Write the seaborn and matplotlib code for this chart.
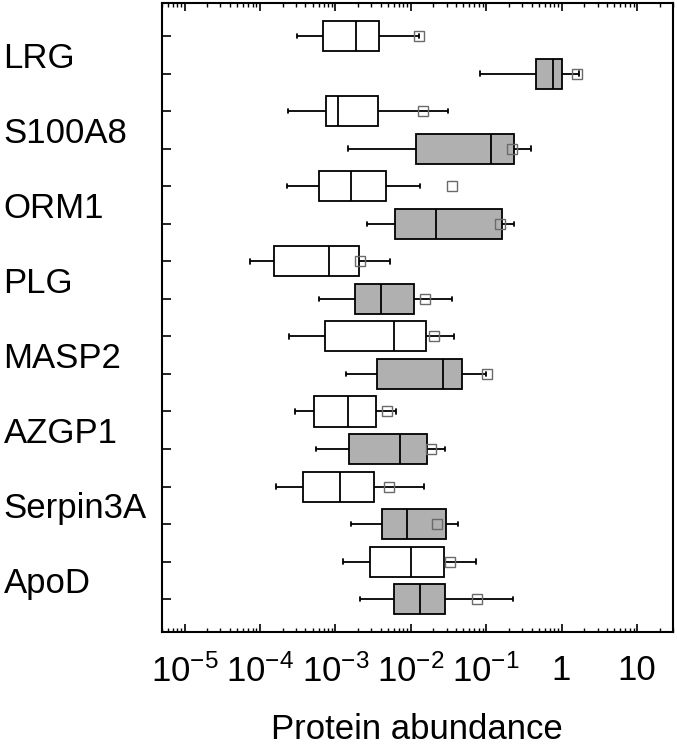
import numpy as np
import pandas as pd
import matplotlib
matplotlib.use("Agg")
import matplotlib.pyplot as plt
import matplotlib.ticker as mticker
import seaborn as sns

proteins = ["LRG", "S100A8", "ORM1", "PLG", "MASP2", "AZGP1", "Serpin3A", "ApoD"]
groups = ["Control", "Patient"]

# box summaries (whisker low, q1, median, q3, whisker high)
ctrl_lo = [3.06e-4, 2.35e-4, 2.30e-4, 7.46e-5, 2.40e-4, 2.94e-4, 1.61e-4, 1.27e-3]
ctrl_q1 = [6.9e-4, 7.48e-4, 6.11e-4, 1.55e-4, 7.26e-4, 5.25e-4, 3.78e-4, 2.92e-3]
ctrl_med = [1.88e-3, 1.10e-3, 1.62e-3, 8.35e-4, 6.0e-3, 1.49e-3, 1.14e-3, 1.016e-2]
ctrl_q3 = [3.79e-3, 3.68e-3, 4.66e-3, 2.08e-3, 1.574e-2, 3.47e-3, 3.26e-3, 2.75e-2]
ctrl_hi = [1.30e-2, 3.14e-2, 1.32e-2, 5.31e-3, 3.72e-2, 6.37e-3, 1.51e-2, 7.36e-2]
ctrl_mean = [1.28e-2, 1.45e-2, 3.51e-2, 2.13e-3, 2.03e-2, 4.90e-3, 5.15e-3, 3.30e-2]

pat_lo = [8.39e-2, 1.49e-3, 2.64e-3, 6.11e-4, 1.37e-3, 5.46e-4, 1.63e-3, 2.15e-3]
pat_q1 = [0.462, 1.17e-2, 6.12e-3, 1.83e-3, 3.54e-3, 1.51e-3, 4.20e-3, 6.0e-3]
pat_med = [0.767, 0.1175, 2.15e-2, 3.99e-3, 2.64e-2, 7.28e-3, 8.91e-3, 1.337e-2]
pat_q3 = [1.0, 0.2345, 0.164, 1.114e-2, 4.75e-2, 1.637e-2, 2.98e-2, 2.83e-2]
pat_hi = [1.71, 0.393, 0.232, 3.51e-2, 9.97e-2, 2.89e-2, 4.21e-2, 0.225]
pat_mean = [1.58, 0.222, 0.155, 1.54e-2, 0.102, 1.87e-2, 2.26e-2, 7.66e-2]

xtick_vals = [1e-5, 1e-4, 1e-3, 1e-2, 1e-1, 1, 10]
xtick_labels = [r"$\mathregular{10^{-5}}$", r"$\mathregular{10^{-4}}$",
                r"$\mathregular{10^{-3}}$", r"$\mathregular{10^{-2}}$",
                r"$\mathregular{10^{-1}}$", "1", "10"]

# long tables: five summary points per box give exact quartiles/whiskers
rows = []
for grp, stats in [("Control", [ctrl_lo, ctrl_q1, ctrl_med, ctrl_q3, ctrl_hi]),
                   ("Patient", [pat_lo, pat_q1, pat_med, pat_q3, pat_hi])]:
    for i, p in enumerate(proteins):
        for s in stats:
            rows.append({"protein": p, "group": grp, "value": s[i]})
df = pd.DataFrame(rows)

means = pd.DataFrame({
    "protein": proteins * 2,
    "group": ["Control"] * len(proteins) + ["Patient"] * len(proteins),
    "mean": ctrl_mean + pat_mean,
})

sns.set_style("white")
plt.rcParams["font.family"] = ["Liberation Sans", "DejaVu Sans"]
plt.rcParams["mathtext.default"] = "regular"
plt.rcParams["text.color"] = "black"
plt.rcParams["axes.labelcolor"] = "black"
plt.rcParams["xtick.color"] = "black"
plt.rcParams["ytick.color"] = "black"

fig = plt.figure(figsize=(6.77, 7.5), dpi=100)
ax = fig.add_axes([0.239, 0.157, 0.755, 0.839])

palette = {"Control": "white", "Patient": "#b0b0b0"}
sns.boxplot(data=df, x="value", y="protein", hue="group", order=proteins,
            hue_order=groups, palette=palette, saturation=1, width=1.0,
            gap=0.2, whis=(0, 100), linecolor="black", linewidth=1.3,
            log_scale=True, capwidths=0.06, legend=False, ax=ax)

sns.pointplot(data=means, x="mean", y="protein", hue="group", order=proteins,
              hue_order=groups, palette=palette, dodge=0.5, markers="s",
              linestyles="none", errorbar=None, markerfacecolor="none",
              markeredgecolor="#6a6a6a", markersize=7, markeredgewidth=1.0,
              legend=False, zorder=4, ax=ax)

ax.set_xscale("log")
ax.set_xlim(5e-6, 30)
ax.set_ylim(7.69, -0.69)

ax.set_xticks(xtick_vals)
ax.set_xticklabels(xtick_labels)
ax.xaxis.set_minor_locator(mticker.LogLocator(base=10, subs=np.arange(2, 10), numticks=100))
ax.xaxis.set_minor_formatter(mticker.NullFormatter())
ax.tick_params(axis="x", which="major", direction="in", length=6, width=1.2,
               top=True, bottom=True, labelsize=25, pad=16)
ax.tick_params(axis="x", which="minor", direction="in", length=3, width=1.0,
               top=True, bottom=True)

ax.set_yticks(range(len(proteins)))
ax.set_yticklabels(proteins)
ax.set_yticks([i + d for i in range(len(proteins)) for d in (-0.25, 0.25)], minor=True)
ax.tick_params(axis="y", which="major", length=0, labelsize=25, pad=114)
ax.tick_params(axis="y", which="minor", direction="in", length=6.5, width=1.2,
               left=True, right=False)
for lab in ax.get_yticklabels():
    lab.set_horizontalalignment("left")

ax.set_xlabel("Protein abundance", fontsize=25, labelpad=17)
ax.set_ylabel("")
for sp in ax.spines.values():
    sp.set_visible(True)
    sp.set_color("black")
    sp.set_linewidth(1.5)

fig.savefig("out.png", dpi=100)
